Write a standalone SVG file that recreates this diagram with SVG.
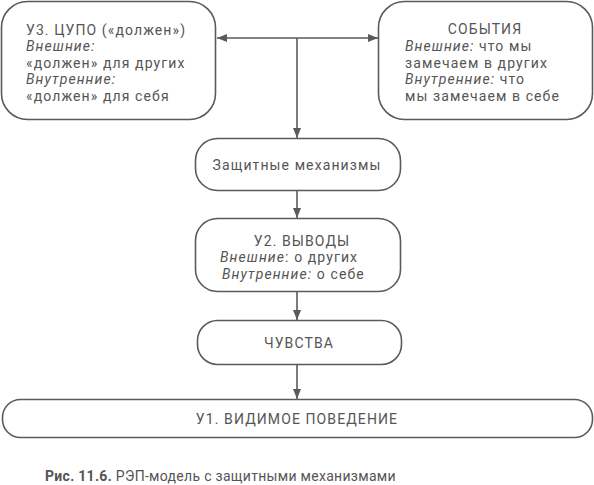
<svg xmlns="http://www.w3.org/2000/svg" width="594" height="485" viewBox="0 0 594 485">
<defs>
<marker id="ah" viewBox="0 0 10 10" refX="10" refY="5" markerWidth="10" markerHeight="10" markerUnits="userSpaceOnUse" orient="auto">
<path d="M0,1 L10,5 L0,9 Z" fill="#5a5a5a"/>
</marker>
<style>
.box{fill:#fff;stroke:#5a5a5a;stroke-width:1.6}
.t{font-family:Roboto,"DejaVu Sans",sans-serif;font-size:14px;fill:#555;letter-spacing:1.1px}
.i{font-style:italic}
.c{text-anchor:middle}
.ln{stroke:#5a5a5a;stroke-width:1.6;fill:none}
</style>
</defs>
<rect width="594" height="485" fill="#fff"/>
<g id="connectors">
<line class="ln" x1="297" y1="38" x2="217" y2="38" marker-end="url(#ah)"/>
<line class="ln" x1="297" y1="38" x2="378" y2="38" marker-end="url(#ah)"/>
<line class="ln" x1="297" y1="38" x2="297" y2="138" marker-end="url(#ah)"/>
<line class="ln" x1="297" y1="190" x2="297" y2="218" marker-end="url(#ah)"/>
<line class="ln" x1="297" y1="292" x2="297" y2="320" marker-end="url(#ah)"/>
<line class="ln" x1="297" y1="365" x2="297" y2="399" marker-end="url(#ah)"/>
</g>
<g id="node-u3">
<rect class="box" x="1.5" y="1.5" width="214" height="118" rx="26"/>
<text class="t" x="26" y="34.5">У3. ЦУПО («должен»)</text>
<text class="t i" x="26" y="51">Внешние:</text>
<text class="t" x="26" y="67.5">«должен» для других</text>
<text class="t i" x="26" y="84">Внутренние:</text>
<text class="t" x="26" y="100.5">«должен» для себя</text>
</g>
<g id="node-events">
<rect class="box" x="378.5" y="1.5" width="214" height="118" rx="26"/>
<text class="t c" x="485" y="34">СОБЫТИЯ</text>
<text class="t" x="405" y="51"><tspan class="i">Внешние:</tspan> что мы</text>
<text class="t" x="405" y="67.5">замечаем в других</text>
<text class="t" x="405" y="84"><tspan class="i">Внутренние:</tspan> что</text>
<text class="t" x="405" y="100.5">мы замечаем в себе</text>
</g>
<g id="node-defense">
<rect class="box" x="195.5" y="138.5" width="205" height="52" rx="22"/>
<text class="t c" x="297" y="170">Защитные механизмы</text>
</g>
<g id="node-u2">
<rect class="box" x="195.5" y="218.5" width="205" height="73" rx="22"/>
<text class="t c" x="302" y="245.5">У2. ВЫВОДЫ</text>
<text class="t" x="220" y="262"><tspan class="i">Внешние</tspan>: о других</text>
<text class="t" x="222" y="278.5"><tspan class="i">Внутренние:</tspan> о себе</text>
</g>
<g id="node-feelings">
<rect class="box" x="197.5" y="320.5" width="204" height="44" rx="20"/>
<text class="t c" x="299" y="348">ЧУВСТВА</text>
</g>
<g id="node-u1">
<rect class="box" x="2.5" y="399.5" width="590" height="38" rx="18"/>
<text class="t c" x="297" y="424">У1. ВИДИМОЕ ПОВЕДЕНИЕ</text>
</g>
<text x="45" y="481" style="font-family:Roboto,'DejaVu Sans',sans-serif;font-size:14px;fill:#555;letter-spacing:0.3px"><tspan font-weight="bold">Рис. 11.6.</tspan> РЭП-модель с защитными механизмами</text>
</svg>
